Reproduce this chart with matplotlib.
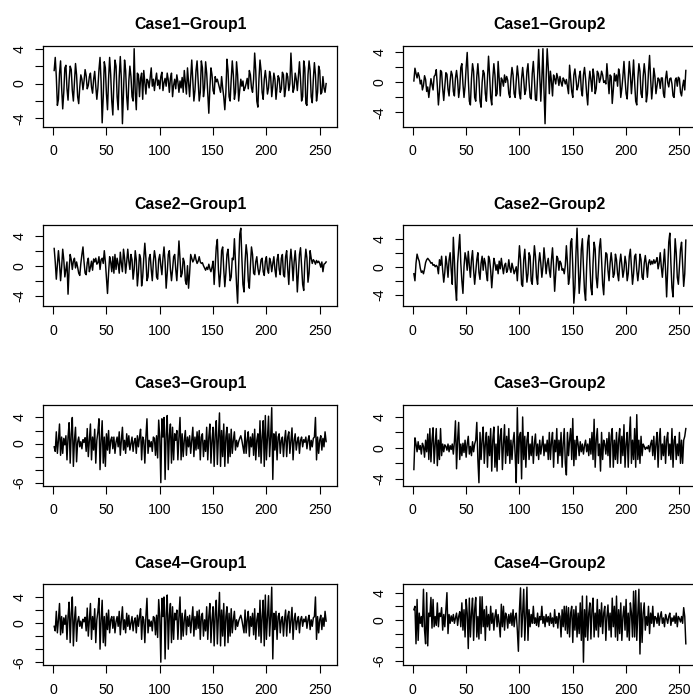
import numpy as np
import matplotlib
matplotlib.use("Agg")
import matplotlib.pyplot as plt

plt.rcParams['font.family'] = ['Liberation Sans', 'DejaVu Sans']

# values, one per time step (1..256)
case1_group1 = [
    1.5, 3.0, 0.8, -2.5, -1.8, 1.2, 2.6, -0.5, -2.9, -1.0, 1.8, 2.1, -0.6, -1.9, 0.4, 2.0,
    1.6, -0.8, -2.0, 0.2, 2.3, 1.0, -1.5, -2.3, -0.4, 1.0, 0.5, -0.7, 0.3, 1.6, 0.9, -0.6,
    -0.2, 0.8, 1.2, -0.4, -1.1, 0.5, 1.4, -0.3, -1.8, -0.5, 1.6, 3.0, 0.2, -4.5, -1.5, 2.5,
    1.8, -1.2, -3.0, 0.5, 3.0, 1.0, -2.0, -3.6, 0.2, 2.7, 2.0, -1.5, -3.0, 0.8, 3.1, 0.5,
    -4.6, -1.0, 2.7, 1.5, -1.5, -3.0, 0.3, 2.0, 0.8, -1.5, -2.0, 4.0, -1.0, -3.0, 1.2, 1.0,
    -1.5, 0.6, 1.2, -1.8, 1.5, 0.2, -1.2, 0.5, 0.3, -0.5, 0.6, 1.8, -0.3, 0.5, -0.8, 0.4,
    1.2, -0.2, 0.4, -0.6, 0.8, 1.3, -0.8, 0.1, 0.6, -0.3, 1.2, 0.4, -1.0, 0.6, 1.2, -1.5,
    -0.2, 0.5, -0.6, 1.0, 0.2, -1.0, 0.3, -0.5, 0.7, -1.0, 1.5, 0.1, -1.2, 1.8, 0.2, -1.5,
    0.5, 2.7, 0.4, -2.0, -0.8, 1.5, 2.6, 0.2, -2.0, -1.0, 2.6, 1.8, -1.5, -0.5, 2.5, 1.2,
    -1.0, -3.4, -0.5, 1.8, 1.0, -0.8, -1.2, 0.8, 0.2, 0.5, 0.0, -0.5, -1.0, 0.8, -0.5, -1.5,
    -3.0, -1.0, 2.8, 1.5, -1.5, -2.0, 0.5, 2.6, 1.0, -1.8, -1.0, 2.5, 1.0, -2.0, -0.8, 0.5,
    -0.3, 0.3, -0.8, -0.5, 0.0, 0.6, -0.6, 1.5, 1.0, -0.5, -1.0, 0.5, 3.5, 1.5, -2.0, -2.7,
    0.5, 2.7, 1.5, -1.0, -1.8, 0.5, 1.5, 0.3, -1.2, -0.5, 1.4, 0.8, -1.5, -0.3, 1.2, 0.5,
    -1.8, -0.5, 0.9, 0.6, -1.0, -0.6, 1.3, 1.0, -1.5, -0.6, 1.2, 0.8, -0.8, 0.0, 3.5, 1.0,
    -1.0, -0.5, 1.2, 0.5, -0.8, 0.8, 2.5, 0.5, -2.0, -1.5, 2.6, 1.8, -2.3, -2.5, 1.0, 2.6,
    1.5, -1.5, -2.2, 0.5, 2.4, 1.0, -2.0, -1.0, 2.0, 1.5, -1.2, -1.0, 0.8, -0.5, -1.0, 0.0,
]

case1_group2 = [
    0.2, 1.9, 1.2, 0.6, 1.3, 0.8, -0.2, 0.3, -1.0, -0.4, 0.9, 0.4, -1.2, -0.6, -2.0, -0.8,
    0.5, -0.3, -1.0, 0.8, 1.0, 1.7, -0.5, -3.0, -1.2, 1.6, 1.4, -0.8, -2.4, -0.5, 1.3, 1.1,
    -0.9, -1.8, 0.2, 1.5, 1.0, -1.2, -1.8, 0.6, 1.6, 0.3, -2.0, -0.8, 2.0, 2.5, -0.2, -2.0,
    -0.5, 2.0, 4.0, 0.5, -2.5, -3.0, 0.5, 2.5, 1.5, -2.0, -2.5, 0.8, 2.5, 0.5, -2.5, -3.3,
    0.0, 1.6, 1.2, -1.5, -2.5, 0.4, 3.5, 1.0, -2.0, -3.0, 0.5, 2.5, 1.0, -1.8, -1.5, 2.8,
    0.6, -1.8, 0.6, 0.3, -0.5, 1.0, 0.0, 0.8, 0.3, -1.5, -2.0, 0.5, 2.0, 1.0, -1.5, -2.0,
    0.3, 2.2, 0.8, -1.5, -2.2, 0.5, 2.0, 0.4, -1.6, -1.0, 1.5, 2.5, 0.0, -2.0, -2.2, 1.2,
    2.8, 0.5, -2.3, -2.4, 0.8, 4.4, 1.0, -2.5, 0.5, 4.5, -1.0, -5.5, 0.5, 4.5, 2.0, -1.5,
    1.5, 0.2, -1.8, 1.0, 0.5, -0.2, 1.2, 0.6, -0.4, 0.8, 0.0, -0.5, 0.6, 0.3, -0.2, 0.4,
    -0.6, -1.5, 2.3, 0.5, -1.2, -2.0, 1.0, 1.8, 0.5, -1.0, -0.5, 0.8, 1.5, -1.0, -1.8, 1.0,
    2.0, 0.5, -1.5, -3.0, 0.0, 1.5, 0.3, -1.2, 1.8, 0.8, -1.5, -0.8, 1.5, 1.2, 0.0, 0.5,
    1.5, 1.0, 0.0, 0.2, -0.2, 2.5, 0.5, -1.5, 1.0, 0.8, -2.8, -1.0, 1.2, 0.2, 1.0, -0.5,
    1.8, 1.0, -2.0, -0.8, 0.8, 2.8, 0.5, -1.5, -2.2, 0.5, 2.8, 1.0, -1.5, 0.5, 3.0, 0.0,
    -2.5, -3.0, 0.5, 2.5, 1.5, -1.5, -2.0, 0.8, 2.5, 1.0, -2.6, -1.5, 1.5, 3.6, 0.5, -2.2,
    -0.5, 1.9, 0.8, -1.5, -0.5, 0.6, 0.4, -0.8, 0.6, 0.6, -1.5, -2.0, 0.5, 1.5, 0.0, -0.6,
    0.5, 0.6, -0.2, -1.8, -2.0, 0.3, 0.6, -0.5, 0.7, 0.5, -1.3, -1.8, -0.5, 0.3, -1.0, 1.6,
]

case2_group1 = [
    2.3, 0.5, -1.8, 0.2, 2.0, 0.3, -2.0, -0.2, 2.2, 0.8, -1.5, -0.5, 0.5, -3.8, -0.5, 1.5,
    0.8, -0.5, 0.6, 1.0, -0.3, 0.5, -0.2, -1.0, -1.3, 0.3, 1.5, 2.5, 0.5, -1.0, -1.2, 0.4,
    1.0, -0.8, -0.2, 0.6, -0.6, 0.9, 0.5, 1.0, 0.2, 0.4, 1.2, -0.5, 0.8, 1.0, 0.3, 2.0,
    0.5, -1.5, -3.7, -1.0, 1.2, 0.5, -0.8, 1.2, -1.0, 1.5, -0.5, 1.0, 0.2, -1.0, 1.8, 0.3,
    -0.8, 2.2, 1.0, -1.0, 0.5, 2.2, 0.6, -0.5, 1.5, 0.8, -1.8, -0.5, 2.0, 0.8, -2.7, -1.0,
    1.5, 1.0, -2.7, -1.5, 1.0, 3.0, 1.0, -2.0, -1.5, 1.0, 1.5, -0.5, -2.0, 0.5, 2.0, 1.0,
    -1.5, -1.8, 0.8, 1.5, 0.0, -1.2, 1.0, 2.5, 0.5, -3.0, -1.0, 1.5, 2.0, -0.5, -2.0, -0.5,
    1.2, 1.5, -0.5, -2.0, 0.5, 3.3, 1.0, -1.5, -1.0, 1.0, 0.5, -2.0, -2.5, 0.0, -3.0, -1.0,
    1.5, 1.0, 0.5, 0.8, 1.5, 0.8, 0.3, 0.6, 1.2, 0.5, 0.3, 0.4, 0.0, -0.3, -0.6, -0.2,
    -0.5, 0.2, -0.4, -0.8, -0.2, 0.6, -2.5, 0.0, 2.5, 3.5, -0.5, -2.8, -1.0, 2.0, 2.5, -0.5,
    -2.8, -1.0, 1.5, 2.2, 0.0, -2.0, -1.5, 1.0, 0.8, 3.6, 0.5, -2.5, -5.0, 0.0, 4.2, 5.0,
    1.0, -2.5, -3.5, 0.5, 2.8, 1.5, -2.0, -3.0, 0.0, 2.5, 1.5, -1.0, -1.2, 0.5, 1.2, -0.3,
    -1.2, -0.5, 0.8, 1.0, -0.8, -1.3, 0.6, 1.2, -0.5, -1.0, 1.0, 0.5, -0.8, 0.3, 1.2, -0.5,
    -1.5, 0.8, 1.5, -0.5, -1.2, 1.0, 1.5, -1.2, -1.5, 1.2, 2.0, -0.5, -2.5, 0.5, 2.2, 0.5,
    -2.0, 0.5, 2.0, 0.0, -3.5, -1.0, 1.5, 2.4, 0.0, -2.5, -3.3, 0.5, 2.2, 1.0, -2.2, -1.0,
    2.0, 1.0, 0.3, 0.8, 0.6, 0.2, 0.7, 0.4, 0.6, 0.3, -0.2, 0.5, -0.8, 0.2, 0.3, 0.5,
]

case2_group2 = [
    -1.0, -2.0, 0.5, 1.8, 1.2, 0.8, -0.2, -0.8, -0.6, -1.0, -0.3, 0.6, 1.0, 1.2, 1.0, 0.8,
    0.5, 0.6, 0.2, 0.3, 0.0, 0.2, 0.0, -1.0, 1.0, 0.2, 1.5, -0.5, -2.2, -0.8, 1.5, 0.3,
    -1.5, 1.0, 2.0, -0.5, -2.5, 4.2, 1.0, -3.0, -4.8, 0.5, 2.5, 4.6, 0.5, -2.0, -3.8, 0.0,
    2.0, 1.2, -0.5, 2.2, 0.2, -1.5, 1.0, 2.3, -0.5, -2.5, -0.8, 1.0, 2.0, -0.8, -1.8, 0.5,
    1.5, -0.5, 1.2, 0.5, -1.0, -2.0, 1.5, 1.0, -0.5, -3.0, -1.0, 1.2, 0.5, -0.5, 0.3, -1.0,
    0.8, -0.3, 1.2, 0.0, -1.0, 0.2, 0.5, -0.8, -0.4, 1.0, -0.2, -0.8, 0.5, -0.2, -1.0, -0.5,
    0.0, -2.0, 0.5, 3.0, 1.0, -2.5, -2.8, 1.0, 2.5, 0.0, -2.2, -1.0, 2.0, 1.5, -2.0, -2.5,
    0.5, 3.0, 1.5, -1.5, -2.5, 0.5, 2.0, 0.5, -1.5, 0.0, 2.7, 1.0, -1.0, 0.5, 1.2, -0.5,
    -1.5, 1.0, 2.7, 0.0, -3.5, -1.0, 1.5, 1.2, -0.5, 0.8, 0.5, -0.5, -0.3, -1.0, 0.2, 3.0,
    0.5, -2.5, -1.5, 3.5, 4.0, 0.0, -5.2, -3.0, 2.0, 5.5, 1.0, -3.8, -1.5, 2.5, 4.0, 0.0,
    -3.5, -4.8, 0.0, 3.5, 4.5, 0.5, -3.0, -4.0, 0.5, 3.5, 2.5, -1.5, -3.0, -0.5, 2.8, 4.0,
    1.0, -2.5, -4.0, -0.5, 2.0, 1.8, -0.5, -2.0, 0.5, 2.0, 0.5, -1.5, -1.0, 1.8, 1.0, -1.0,
    -2.0, 0.5, 1.8, 0.3, -1.5, -0.5, 1.5, 0.5, -2.0, -1.0, 1.5, 2.5, 0.0, -2.5, -1.0, 1.5,
    1.8, -0.5, -2.0, -0.5, 1.8, 1.0, -1.5, -1.8, 0.5, 1.6, 0.3, -1.5, 0.5, 1.0, 0.3, 0.8,
    0.4, 1.0, 0.5, 0.8, 1.3, -0.3, 0.5, 2.0, 0.0, -1.5, 0.5, 2.5, -0.5, -4.3, -0.5, 3.5,
    4.8, 0.5, -3.0, -4.3, 0.0, 4.0, 2.0, -1.5, -2.5, 0.0, 2.5, 3.5, 0.5, -2.8, -1.0, 3.8,
]

case3_group1 = [
    -0.5, -1.2, 1.8, -1.5, 0.5, 3.0, -1.8, 1.0, -1.5, 0.8, -0.2, 1.2, -2.5, 1.0, 3.2, -3.0,
    1.5, 4.0, -3.5, 0.5, 2.5, -2.8, 0.2, 1.0, -0.5, 0.3, -0.8, 0.6, 0.2, 0.9, -1.2, 2.3,
    -2.0, 0.5, 3.0, -2.5, 1.0, -1.0, 2.2, -3.0, 0.5, 1.8, 3.8, -4.0, 0.5, 3.5, -3.0, 1.0,
    -3.5, 1.5, -1.0, 2.0, -1.5, 0.5, 1.0, -0.8, 1.0, -1.5, 0.2, 1.0, -0.5, 1.8, -1.8, 0.5,
    2.5, -1.0, 0.5, -1.5, 1.5, -0.5, 1.2, -1.0, 0.0, 1.0, -1.2, 0.3, 0.8, -1.5, 1.2, -0.5,
    1.0, 2.2, -2.5, 1.0, 0.5, -3.0, 1.0, 3.8, -1.5, 0.5, -0.5, 0.3, -1.2, 1.0, 0.8, -1.8,
    1.2, -2.2, 3.6, 1.0, -6.0, 3.8, 1.0, 4.0, -5.5, 1.5, 4.3, -4.0, 1.2, 3.0, -3.0, 2.5,
    -2.5, 1.5, 0.5, 2.0, -2.5, 1.0, 4.0, -2.5, 1.5, -2.0, 0.5, 2.0, -1.8, 1.0, -0.5, 1.2,
    -1.5, 0.5, 2.5, -2.0, 1.0, -1.0, 1.8, -0.8, 2.0, -2.5, 1.0, 1.5, -2.0, 0.5, -1.2, 2.5,
    -2.5, 1.0, 3.0, -3.0, 0.5, 2.5, -3.5, 1.5, 3.5, -3.2, 1.0, 4.7, -3.5, 2.0, -2.0, 3.0,
    -3.5, 1.0, 2.5, -3.0, 1.5, -2.0, 2.2, -1.5, 0.5, 1.8, -1.0, 0.5, -0.5, 0.3, 0.8, 1.2,
    0.5, -0.5, -1.5, 2.0, -1.5, 0.5, 1.8, -2.0, 1.0, -0.5, 1.5, -1.8, 2.2, -2.5, 0.5, 1.5,
    -2.0, 3.5, -3.0, 1.0, 3.5, -3.5, 4.3, -2.5, 0.8, 4.2, -2.0, 1.0, 5.5, -5.5, 1.5, -1.0,
    1.8, -2.5, 1.0, 1.5, -1.5, 0.5, 1.0, -2.0, 0.5, 2.0, -2.0, 1.0, 1.8, -1.5, 0.5, 2.4,
    -2.5, 0.5, 1.5, -1.0, 0.3, 1.0, -1.5, 0.5, 1.0, -0.5, 0.6, 0.2, 1.0, -0.8, 0.5, 1.2,
    -1.0, 0.5, -0.5, 0.8, 1.0, 4.0, -2.5, 1.0, -1.5, 0.5, 1.2, -1.0, 0.8, -0.5, 1.8, 0.3,
]

case3_group2 = [
    -2.8, 1.3, 0.5, -0.5, 0.8, -0.2, 0.3, -0.8, 0.6, 0.2, -1.2, 1.0, -0.5, 1.8, -1.5, 2.5,
    -1.8, 1.0, 2.6, -2.0, 0.5, 2.5, -2.3, 1.0, -1.5, 2.5, -1.0, 0.5, -0.5, 0.4, 0.2, -0.3,
    0.5, -0.5, 0.3, -0.2, 0.5, -0.8, 0.8, 3.5, -2.7, 1.0, 3.3, -1.5, 0.5, -1.0, 0.6, -0.6,
    1.0, -1.2, 0.5, 1.5, -0.8, 0.2, -1.0, 0.8, -0.5, 0.5, 1.0, 3.3, -1.5, -4.5, 2.0, -1.5,
    1.0, 2.7, -2.0, 0.5, 2.0, -2.5, 1.5, -1.0, 2.5, -3.0, 1.0, 2.7, -2.5, 0.5, -3.0, 2.8,
    -1.5, 1.5, 2.5, -2.8, 0.5, 3.0, -2.0, 1.5, -1.0, 2.5, -2.0, 1.0, -1.5, 0.8, 2.0, -1.0,
    -4.5, 5.2, -2.0, 1.5, 2.0, -4.0, 4.0, -1.5, 1.5, -2.5, 1.0, 2.0, -1.5, 0.5, -1.0, 1.5,
    -2.0, 0.5, 1.8, -1.0, 0.5, -1.5, 1.0, -0.8, 0.3, 1.5, -1.0, 0.5, -0.5, 1.0, -1.5, 2.0,
    -1.5, 0.8, 2.0, -2.5, 1.0, -0.5, 2.5, -2.0, 1.0, -1.0, 2.0, -2.5, 0.5, 2.5, -2.0, -3.5,
    2.0, -1.0, 1.0, 2.5, -1.5, 3.8, -2.3, 1.0, -1.5, 1.5, 0.5, -1.0, 0.8, -0.5, 0.5, -0.8,
    0.3, 1.0, -0.5, 0.5, -1.0, 1.2, -0.8, 2.0, -1.5, 3.7, -2.5, 1.0, 2.5, -1.0, 0.5, -3.0,
    2.0, -1.5, 1.0, 0.5, -0.8, 1.2, -1.0, 2.0, -2.5, 1.5, 2.5, -2.5, 1.0, -1.5, 2.0, -2.0,
    1.0, 2.5, -2.0, 1.5, -1.0, 3.0, -2.5, 0.5, 2.0, -2.5, 1.5, 4.0, -2.0, 1.0, -1.5, 2.5,
    -2.5, 4.3, -1.5, 1.0, -2.0, 1.5, -1.0, 0.5, 0.2, -0.2, 0.1, -0.1, 0.3, -0.5, 0.5, 1.0,
    -1.0, 1.5, -1.5, 0.5, 2.0, -2.5, 1.0, 2.5, -1.5, 0.5, -1.0, 1.5, -2.0, 1.0, 2.0, -1.0,
    0.5, -1.5, 2.5, -2.5, 1.0, 1.5, -1.5, 0.5, -1.0, 2.0, -2.0, 1.0, -2.0, 1.0, 1.5, 2.5,
]

# Case4-Group1 looks the same as Case3-Group1 in the reference
case4_group1 = list(case3_group1)

case4_group2 = [
    1.5, 2.0, -3.5, 3.0, -3.0, 1.0, -0.5, 0.5, -1.0, 4.5, -1.5, -3.5, 4.0, -3.8, 1.0, 0.5,
    3.3, -1.2, 3.0, -1.0, 0.5, -0.8, 2.5, -1.0, 1.0, 0.5, 1.8, -1.5, 0.8, -1.0, 1.5, 4.0,
    -2.0, 0.8, -0.5, 0.6, -0.2, 0.8, -0.5, 0.3, 1.0, -0.8, 0.5, 1.2, -1.0, 2.5, -1.5, 1.5,
    -2.5, 3.0, 1.0, -4.2, 3.2, -2.5, 1.0, 3.2, -3.0, 1.5, 3.3, -2.5, 0.5, -2.8, 3.4, -2.0,
    3.4, -1.0, 1.5, -3.0, 2.0, -1.0, 0.8, -1.5, 2.0, -0.5, 1.0, -1.5, 0.5, 1.5, -1.0, 0.8,
    -0.5, -2.5, 2.3, -1.0, 2.0, -1.5, 1.0, 0.5, -1.2, 0.8, -0.5, 1.0, -0.8, 1.5, -1.0, 0.5,
    1.0, -1.5, -4.6, 1.5, 4.7, -2.5, 1.0, 4.5, -3.0, 0.5, 4.8, -3.0, 1.5, -1.0, 0.8, -0.5,
    2.0, -0.5, 0.3, -0.8, 1.0, -1.0, 0.5, 0.0, 2.0, -0.5, 0.5, -1.0, 0.8, -0.3, 0.5, -0.8,
    1.0, -0.5, 0.3, -1.0, 1.5, -0.5, 0.5, -1.2, 1.0, 0.5, -2.5, 1.5, -1.0, 2.0, -1.5, 2.0,
    -2.0, 1.8, -2.5, 1.0, 2.0, -3.3, 1.5, -1.5, 2.0, -2.5, 1.0, -2.0, 2.5, -3.0, 3.5, -6.2,
    1.5, -2.5, 3.5, -3.0, 1.0, 2.5, -2.8, 1.5, 3.2, -2.5, 1.0, -1.5, 3.0, -2.5, 1.5, -1.0,
    2.5, -2.0, 1.0, 2.0, -3.0, 0.5, 2.2, -1.5, 1.0, -2.5, 3.2, -1.0, 2.0, -2.5, 3.5, -3.0,
    1.5, -2.0, 2.5, -3.0, 0.5, 2.0, -1.5, 3.0, -2.5, 1.0, -3.0, 2.5, 1.0, -2.5, 4.2, -2.5,
    4.3, -3.0, 1.0, 4.5, -5.0, 2.5, -3.3, 1.0, 2.5, -1.5, 0.5, -0.8, 2.0, -2.0, 1.0, -0.5,
    2.0, -1.0, 0.5, 0.3, -0.5, 1.0, -0.8, 0.5, 1.2, -0.5, 0.3, -1.0, 0.8, 0.2, -0.5, 0.5,
    1.0, -0.8, 0.3, -0.2, 0.6, -0.5, 1.0, -1.0, 0.5, 0.2, -0.3, 0.5, -0.5, 1.8, 0.5, -3.5,
]

titles = ["Case1\u2212Group1", "Case1\u2212Group2",
          "Case2\u2212Group1", "Case2\u2212Group2",
          "Case3\u2212Group1", "Case3\u2212Group2",
          "Case4\u2212Group1", "Case4\u2212Group2"]
series = [case1_group1, case1_group2, case2_group1, case2_group2,
          case3_group1, case3_group2, case4_group1, case4_group2]
x_ticks = [0, 50, 100, 150, 200, 250]

for name, s in zip(titles, series):
    assert len(s) == 256, (name, len(s))

W, H = 693, 696
fig = plt.figure(figsize=(W / 100, H / 100), dpi=100)

# panel boxes in pixels (R-like mfrow layout, right column runs off the edge)
col_left = [43.3, 403.0]
box_w = 293.7
row_top = [45.7, 225.2, 404.7, 584.2]
box_h = 81.0

for k, (name, s) in enumerate(zip(titles, series)):
    r, c = divmod(k, 2)
    ax = fig.add_axes([col_left[c] / W, 1 - (row_top[r] + box_h) / H,
                       box_w / W, box_h / H])
    y = np.array(s)
    t = np.arange(1, len(y) + 1)
    ax.plot(t, y, color='black', lw=1.05)

    # R style 4% extension of the data range
    xr = t.max() - t.min()
    ax.set_xlim(t.min() - 0.04 * xr, t.max() + 0.04 * xr)
    yr = y.max() - y.min()
    lo, hi = y.min() - 0.04 * yr, y.max() + 0.04 * yr
    ax.set_ylim(lo, hi)

    ax.set_xticks(x_ticks)
    ax.set_xticklabels([str(v) for v in x_ticks])
    yt = [v for v in range(-8, 9, 2) if lo <= v <= hi]
    ax.set_yticks(yt)
    # R drops overlapping labels: only the ends and zero survive
    ax.set_yticklabels([str(v) if v in (yt[0], 0, yt[-1]) else '' for v in yt])

    ax.tick_params(axis='both', direction='out', length=6, width=0.8,
                   labelsize=10.2, colors='black')
    ax.tick_params(axis='x', pad=6.5)
    ax.tick_params(axis='y', pad=6, labelrotation=90)
    for lab in ax.get_yticklabels():
        lab.set_va('center')
    for sp in ax.spines.values():
        sp.set_linewidth(0.9)
    ax.set_title(name, fontsize=11.4, fontweight='bold', pad=12)

fig.savefig('out.png', dpi=100)
